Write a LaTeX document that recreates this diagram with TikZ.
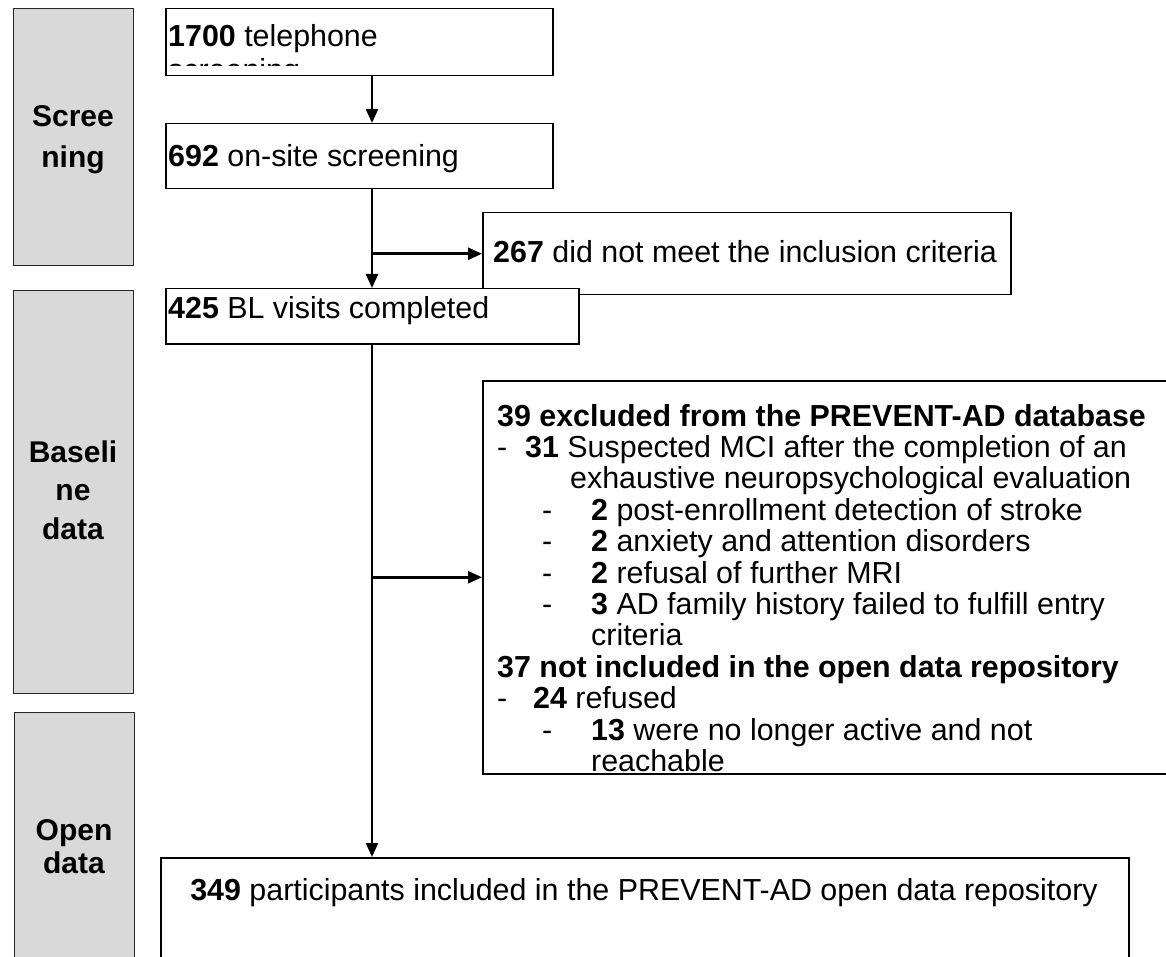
\documentclass[tikz,border=0pt]{standalone}
\usepackage{fontspec}
\setmainfont{Liberation Sans}
\usetikzlibrary{arrows.meta}
\definecolor{sidegray}{RGB}{217,217,217}
\newcommand\mainfs{\fontsize{30.4}{31.4}\selectfont}
\begin{document}
\begin{tikzpicture}[x=1pt,y=-1pt,
  box/.style={draw=black, line width=1.5pt, fill=white, inner sep=0pt, anchor=north west},
  side/.style={draw=black!85, line width=1.3pt, fill=sidegray, inner sep=0pt, anchor=north west},
  sidetxt/.style={inner sep=0pt, align=center},
  txt/.style={inner sep=0pt, anchor=base west, font=\mainfs},
  conn/.style={line width=2.5pt},
  arr/.style={conn, -{Triangle[length=14pt,width=12pt]}}]
\useasboundingbox (0,0) rectangle (1166,957);
\clip (0,0) rectangle (1166,957);
\coordinate (sp) at (372,0);

% side labels
\node[side, minimum width=120, minimum height=257] (s1) at (13,8) {};
\node[sidetxt, font=\bfseries\fontsize{30}{41}\selectfont] (s1t) at (73,139.5) {Scree\\ning};
\node[side, minimum width=120, minimum height=403] (s2) at (13,290) {};
\node[sidetxt, font=\bfseries\fontsize{30}{38.5}\selectfont] (s2t) at (73,490) {Baseli\\ne\\data};
\node[side, minimum width=120, minimum height=300] (s3) at (14,712) {};
\node[sidetxt, font=\bfseries\fontsize{30}{33}\selectfont] (s3t) at (74,847) {Open\\data};

% telephone box with clipped text
\node[box, minimum width=387, minimum height=67] (tel) at (165,8) {};
\begin{scope}
\clip (166,9) rectangle (551,66);
\node[txt] (tel1) at (168,47) {\textbf{1700} telephone};
\node[txt] (tel2) at (168,80.5) {screening};
\end{scope}

\node[box, minimum width=387, minimum height=65] (onsite) at (165,123) {};
\node[txt] (onsitet) at (168,167) {\textbf{692} on-site screening};

\node[box, minimum width=528, minimum height=82] (incl) at (482,212) {};
\node[txt, anchor=base] (inclt) at (745,263) {\textbf{267} did not meet the inclusion criteria};

\node[box, minimum width=413, minimum height=55] (bl) at (165,288) {};
\node[txt] (blt) at (168,319) {\textbf{425} BL visits completed};

% exclusion box
\node[box, minimum width=800, minimum height=393] (excl) at (482,380) {};
\node[txt] (e1) at (497,426) {\textbf{39 excluded from the PREVENT-AD database}};
\node[txt] (e2) at (497,457.4) {\makebox[28pt][l]{-}\textbf{31} Suspected MCI after the completion of an};
\node[txt] (e3) at (497,488.8) {\hspace*{73pt}exhaustive neuropsychological evaluation};
\node[txt] (e4) at (497,520.2) {\makebox[94pt][l]{\hspace*{45pt}-}\textbf{2} post-enrollment detection of stroke};
\node[txt] (e5) at (497,551.6) {\makebox[94pt][l]{\hspace*{45pt}-}\textbf{2} anxiety and attention disorders};
\node[txt] (e6) at (497,583.0) {\makebox[94pt][l]{\hspace*{45pt}-}\textbf{2} refusal of further MRI};
\node[txt] (e7) at (497,614.4) {\makebox[94pt][l]{\hspace*{45pt}-}\textbf{3} AD family history failed to fulfill entry};
\node[txt] (e8) at (497,645.8) {\hspace*{94pt}criteria};
\node[txt] (e9) at (497,677.2) {\textbf{37 not included in the open data repository}};
\node[txt] (e10) at (497,708.6) {\makebox[36pt][l]{-}\textbf{24} refused};
\node[txt] (e11) at (497,740.0) {\makebox[94pt][l]{\hspace*{45pt}-}\textbf{13} were no longer active and not};
\node[txt] (e12) at (497,771.4) {\hspace*{94pt}reachable};

% final box
\node[box, minimum width=968, minimum height=160] (final) at (160,857) {};
\node[txt, anchor=base] (finalt) at (644,900) {\textbf{349} participants included in the PREVENT-AD open data repository};

% connectors
\draw[arr] (tel.south -| sp) -- (onsite.north -| sp);
\draw[arr] (onsite.south -| sp) -- (bl.north -| sp);
\draw[arr] (sp |- incl.west) -- (incl.west);
\draw[arr] (bl.south -| sp) -- (final.north -| sp);
\draw[arr] (sp |- excl.west) -- (excl.west);
\end{tikzpicture}
\end{document}
